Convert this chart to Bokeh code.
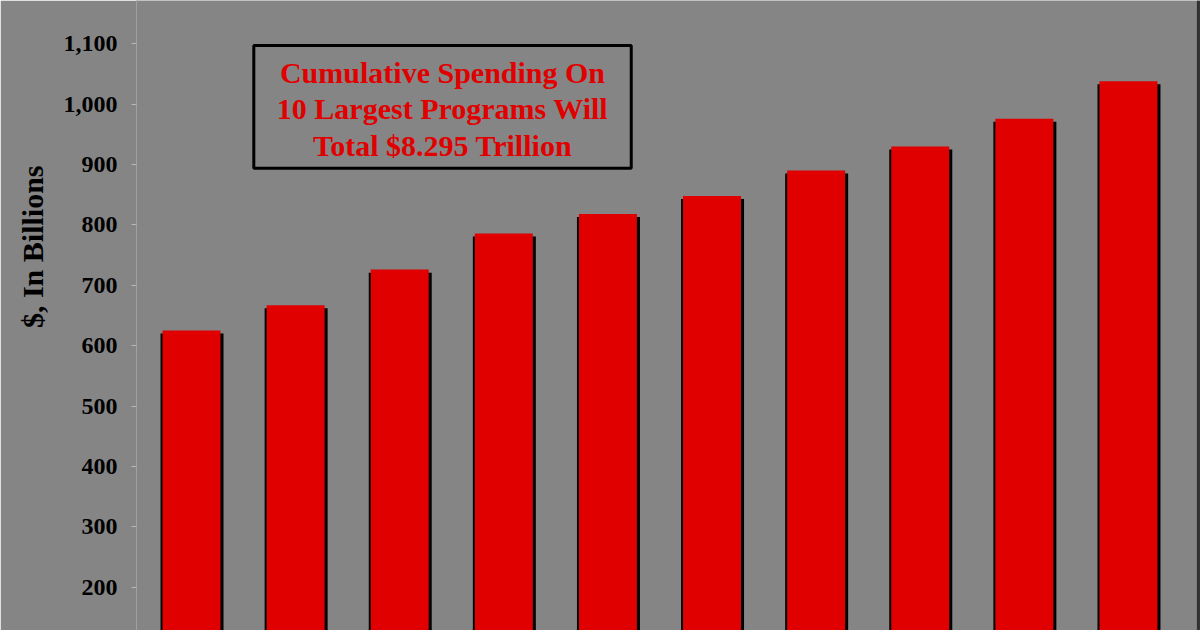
from bokeh.plotting import figure
from bokeh.models import (Range1d, FixedTicker, NumeralTickFormatter, Label, BoxAnnotation,
                          ColumnDataSource, Title, Span)
from bokeh.embed import file_html
from bokeh.resources import INLINE

# ---- data ----
programs = list(range(1, 11))
spending = [625, 667, 726, 786, 818, 848, 890, 930, 976, 1038]
y_ticks = [200, 300, 400, 500, 600, 700, 800, 900, 1000, 1100]
y_title = "$, In Billions"
note_lines = ["Cumulative Spending On", "10 Largest Programs Will", "Total $8.295 Trillion"]

# ---- style ----
BG = "#858585"
RED = "#e00000"
SERIF = "Liberation Serif"

p = figure(width=1200, height=630, output_backend="svg", toolbar_location=None,
           x_range=Range1d(0.4717, 10.692), y_range=Range1d(128.3, 1171.7),
           min_border_left=136, min_border_right=0, min_border_top=0, min_border_bottom=0)
p.background_fill_color = BG
p.border_fill_color = BG
p.outline_line_color = None
p.grid.visible = False
p.xaxis.visible = False

ya = p.yaxis[0]
ya.ticker = FixedTicker(ticks=y_ticks)
ya.formatter = NumeralTickFormatter(format="0,0")
ya.major_label_text_font = SERIF
ya.major_label_text_font_style = "bold"
ya.major_label_text_font_size = "24px"
ya.major_label_text_color = "black"
ya.axis_line_color = "#a0a0a0"
ya.axis_line_width = 1
ya.major_tick_out = 5
ya.major_tick_in = 0
ya.major_tick_line_color = "#b8b8b8"
ya.minor_tick_line_color = None
ya.major_label_standoff = 14

src = ColumnDataSource(dict(x=programs, top=spending,
                            sx=[v + 0.005 for v in programs],
                            stop=[t - 5 for t in spending]))
p.vbar(x="sx", top="stop", bottom=0, width=0.605, source=src,
       fill_color="black", line_color=None)
p.vbar(x="x", top="top", bottom=0, width=0.557, source=src,
       fill_color=RED, line_color=None)

# right edge frame line
p.add_layout(Span(location=10.672, dimension="height", line_color="#303030", line_width=3))

# note box
box = BoxAnnotation(left=1.5985, right=5.224, bottom=894, top=1097,
                    fill_color=None, fill_alpha=0, line_color="black", line_alpha=1.0,
                    line_width=3)
p.add_layout(box)
for txt, yy in zip(note_lines, [1053, 993, 931.6]):
    p.add_layout(Label(x=3.411, y=yy, text=txt, text_align="center", text_baseline="middle",
                       text_font=SERIF, text_font_style="bold", text_font_size="30px",
                       text_color=RED))

# y axis title (as a side title so it can sit above the frame centre)
p.add_layout(Title(text=y_title, align="right", offset=165,
                   text_font=SERIF, text_font_style="bold", text_font_size="30px",
                   text_color="black", standoff=24), "left")

open("out.html", "w").write(file_html(p, INLINE))
